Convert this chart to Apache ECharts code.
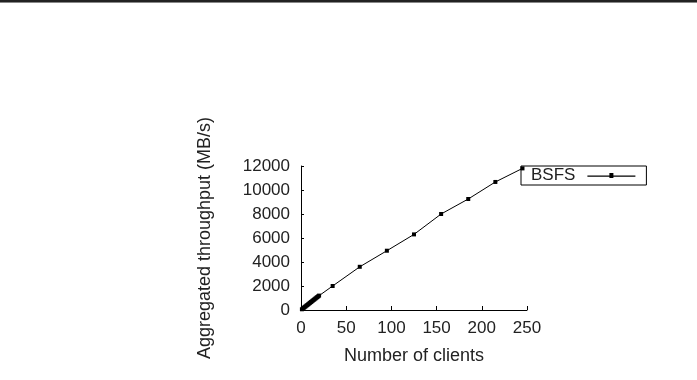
<!DOCTYPE html>
<html><head><meta charset="utf-8">
<script src="https://cdn.jsdelivr.net/npm/echarts@6/dist/echarts.min.js"></script>
<style>html,body{margin:0;padding:0;background:#fff}#c{width:697px;height:380px}</style>
</head><body><div id="c"></div>
<script>
const clients = [1,2,3,4,5,6,7,8,9,10,11,12,13,14,15,16,17,18,19,20,35,65,95,125,155,185,215,245];
const throughput = [60,120,180,240,300,360,420,480,540,600,660,720,780,840,900,960,1020,1080,1140,1200,2000,3600,4940,6300,8000,9250,10670,11800];
const xTicks = [0,50,100,150,200,250];
const yTicks = [0,2000,4000,6000,8000,10000,12000];
const seriesName = 'BSFS';

const chart = echarts.init(document.getElementById('c'));
const font = 'Liberation Sans, Arial, sans-serif';
const fs = 17;
chart.setOption({
  animation: false,
  backgroundColor: '#fff',
  graphic: [
    {type:'rect', shape:{x:0,y:0,width:697,height:2}, style:{fill:'#222'}},
    {type:'rect', shape:{x:0,y:2,width:697,height:1}, style:{fill:'#888'}}
  ],
  grid: {left: 301, top: 166, right: 170, bottom: 70},
  legend: {
    left: 521, top: 166,
    data: [seriesName],
    align: 'right',
    orient: 'horizontal',
    borderColor: '#000', borderWidth: 1, borderRadius: 0,
    padding: [1, 11, 1, 10],
    itemWidth: 48, itemHeight: 5,
    icon: 'path://M0,2L48,2L48,3L0,3Z M22,0L26,0L26,4L22,4Z',
    symbolKeepAspect: false,
    textStyle: {fontFamily: font, fontSize: fs, lineHeight: 16, color: '#222', padding: [0, 7, 0, 0]}
  },
  xAxis: {
    type: 'value', min: xTicks[0], max: xTicks[xTicks.length-1], interval: 50,
    name: 'Number of clients', nameLocation: 'middle', nameGap: 37,
    nameTextStyle: {fontFamily: font, fontSize: 18, color: '#222'},
    axisLine: {show: true, lineStyle: {color: '#000', width: 1}},
    axisTick: {show: true, inside: true, length: 4, lineStyle: {color: '#000'}},
    axisLabel: {fontFamily: font, fontSize: fs, color: '#222', margin: 10},
    splitLine: {show: false}
  },
  yAxis: {
    type: 'value', min: yTicks[0], max: yTicks[yTicks.length-1], interval: 2000,
    name: 'Aggregated throughput (MB/s)', nameLocation: 'middle', nameGap: 87,
    nameTextStyle: {fontFamily: font, fontSize: 18, color: '#222'},
    axisLine: {show: true, lineStyle: {color: '#000', width: 1}},
    axisTick: {show: true, inside: true, length: 3, lineStyle: {color: '#000'}},
    axisLabel: {fontFamily: font, fontSize: fs, color: '#222', margin: 11, formatter: v => String(v)},
    splitLine: {show: false}
  },
  series: [{
    name: seriesName, type: 'line',
    data: clients.map((c, i) => [c, throughput[i]]),
    symbol: 'rect', symbolSize: 4,
    itemStyle: {color: '#000'},
    lineStyle: {color: '#000', width: 1}
  }]
});
</script></body></html>
